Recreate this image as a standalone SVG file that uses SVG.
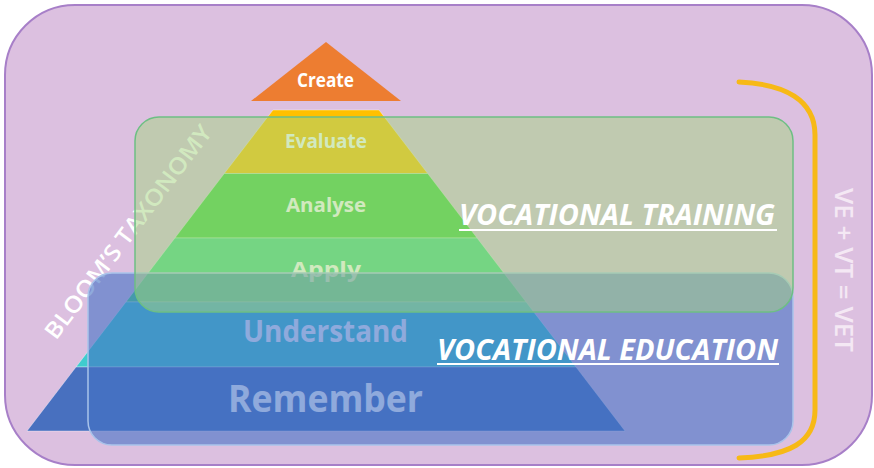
<svg xmlns="http://www.w3.org/2000/svg" width="874" height="468" viewBox="0 0 874 468">
  <style>
    .lvl { stroke: #ffffff; stroke-opacity: 0.35; stroke-width: 1; }
    .lbl { font-family: "Open Sans", "Liberation Sans", sans-serif; font-weight: bold; fill: #ffffff; }
    .voc { font-family: "Open Sans", "Liberation Sans", sans-serif; font-weight: bold; font-style: italic; font-size: 28px; fill: #ffffff; }
    .side { font-family: "Open Sans", "Liberation Sans", sans-serif; font-weight: 600; }
    .uline { stroke: #ffffff; stroke-width: 2; }
  </style>

  <!-- outer panel -->
  <g id="panel">
    <rect x="5" y="5" width="867" height="460" rx="70" ry="70" fill="#dcc0e0" stroke="#a77fc8" stroke-width="2"/>
  </g>

  <!-- brace grouping both bands -->
  <g id="connectors">
    <path d="M739 82 C785 84 815 100 815 135 L815 410 C815 442 790 456 739 458" fill="none" stroke="#f7b916" stroke-width="5" stroke-linecap="round"/>
  </g>

  <!-- Bloom's pyramid levels -->
  <g id="pyramid">
    <polygon id="evaluate" class="lvl" points="273,110 379,110 427.7,173.5 224.3,173.5" fill="#ffc000"/>
    <polygon id="analyse" class="lvl" points="224.3,173.5 427.7,173.5 477.1,238 174.9,238" fill="#42d142"/>
    <polygon id="apply" class="lvl" points="174.9,238 477.1,238 526.1,302 125.9,302" fill="#47d786"/>
    <polygon id="understand" class="lvl" points="125.9,302 526.1,302 576,367 76,367" fill="#3fccce"/>
    <polygon id="remember" class="lvl" points="76,367 576,367 625,431 27,431" fill="#4870bf"/>
  </g>

  <g id="pyramid-labels">
    <text class="lbl" x="285" y="148" font-size="20" textLength="82" lengthAdjust="spacingAndGlyphs">Evaluate</text>
    <text class="lbl" x="286" y="212" font-size="20" textLength="80" lengthAdjust="spacingAndGlyphs">Analyse</text>
    <text class="lbl" x="291" y="277" font-size="22" textLength="70" lengthAdjust="spacingAndGlyphs">Apply</text>
    <text class="lbl" x="243" y="342" font-size="30" textLength="165" lengthAdjust="spacingAndGlyphs">Understand</text>
    <text class="lbl" x="228" y="412" font-size="38" textLength="195" lengthAdjust="spacingAndGlyphs">Remember</text>
  </g>

  <g id="bloom-title">
    <text class="side" transform="translate(56,341) rotate(-53)" font-size="23" fill="#ffffff" textLength="261" lengthAdjust="spacingAndGlyphs">BLOOM’S TAXONOMY</text>
  </g>

  <!-- vocational education band -->
  <g id="vocational-education">
    <rect x="88" y="273" width="705" height="172" rx="24" ry="24" fill="#4472c4" fill-opacity="0.6" stroke="#a9c3ea" stroke-width="1.5"/>
  </g>

  <!-- vocational training band -->
  <g id="vocational-training">
    <rect x="135" y="117" width="658" height="195" rx="24" ry="24" fill="#a4d480" fill-opacity="0.5" stroke="#6dbf84" stroke-width="1.5"/>
  </g>

  <!-- apex -->
  <g id="create">
    <polygon points="326,42 401,101 251,101" fill="#ed7d31"/>
    <text class="lbl" x="297" y="87" font-size="19" textLength="57" lengthAdjust="spacingAndGlyphs">Create</text>
  </g>

  <g id="band-labels">
    <text class="voc" x="459" y="225" textLength="316" lengthAdjust="spacingAndGlyphs">VOCATIONAL TRAINING</text>
    <line class="uline" x1="459" y1="230" x2="777" y2="230"/>
    <text class="voc" x="437" y="360" textLength="341" lengthAdjust="spacingAndGlyphs">VOCATIONAL EDUCATION</text>
    <line class="uline" x1="437" y1="364" x2="779" y2="364"/>
  </g>

  <g id="equation">
    <text class="side" transform="translate(835,188) rotate(90)" font-size="26" fill="#f4e8f4" textLength="164" lengthAdjust="spacingAndGlyphs">VE + VT = VET</text>
  </g>
</svg>
